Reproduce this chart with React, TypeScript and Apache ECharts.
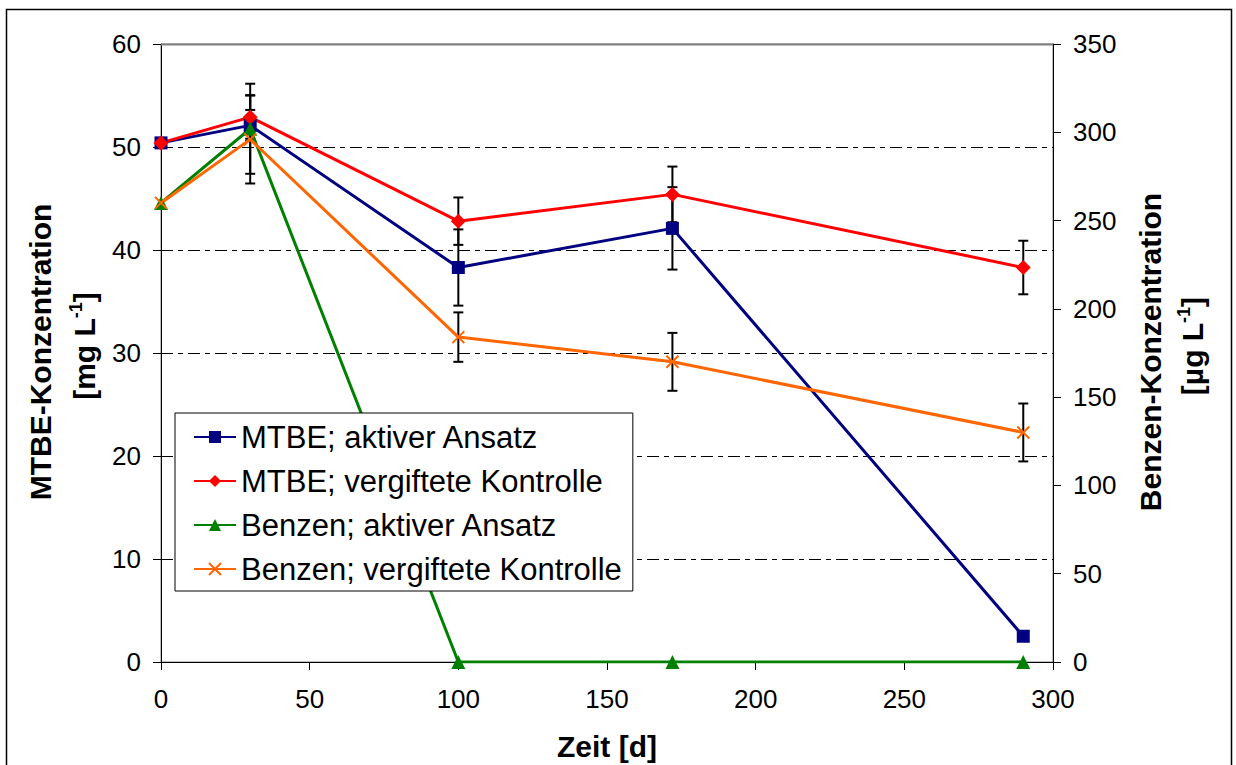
import React, { useEffect, useRef } from "react";
import * as echarts from "echarts";

// Sampling days
const days = [0, 30, 100, 172, 290];

// MTBE concentrations [mg/L] (left axis)
const mtbeAktiv = [50.4, 52.1, 38.3, 42.1, 2.5];
const mtbeAktivErr = [0, 1.5, 3.7, 4.0, 0];
const mtbeVergiftet = [50.4, 52.9, 42.8, 45.4, 38.3];
const mtbeVergiftetErr = [0, 2.1, 2.3, 2.7, 2.6];

// Benzene concentrations [µg/L] (right axis)
const benzenAktiv = [260, 302, 0, 0, 0];
const benzenAktivErr = [0, 25.5, 0, 0, 0];
const benzenVergiftet = [260, 296, 184, 170, 130];
const benzenVergiftetErr = [0, 25, 14, 16.4, 16.4];

const seriesNames = [
  "MTBE; aktiver Ansatz",
  "MTBE; vergiftete Kontrolle",
  "Benzen; aktiver Ansatz",
  "Benzen; vergiftete Kontrolle",
];

const FONT = "'Liberation Sans', Arial, sans-serif";
const TITLE_SIZE = 30;

function pairs(values: number[]) {
  return days.map((d, i) => [d, values[i]]);
}

function errorData(values: number[], errs: number[]) {
  const out: number[][] = [];
  days.forEach((d, i) => {
    if (errs[i] > 0) out.push([d, values[i] - errs[i], values[i] + errs[i]]);
  });
  return out;
}

function errorBarSeries(data: number[][], yAxisIndex: number) {
  return {
    type: "custom",
    yAxisIndex,
    z: 1,
    silent: true,
    encode: { x: 0, y: [1, 2] },
    data,
    renderItem: (params: any, api: any) => {
      const x = api.value(0);
      const top = api.coord([x, api.value(2)]);
      const bot = api.coord([x, api.value(1)]);
      const cap = 5;
      const style = { stroke: "#000", lineWidth: 2 };
      return {
        type: "group",
        children: [
          { type: "line", shape: { x1: top[0], y1: top[1], x2: bot[0], y2: bot[1] }, style },
          { type: "line", shape: { x1: top[0] - cap, y1: top[1], x2: top[0] + cap, y2: top[1] }, style },
          { type: "line", shape: { x1: bot[0] - cap, y1: bot[1], x2: bot[0] + cap, y2: bot[1] }, style },
        ],
      };
    },
  };
}

function lineSeries(name: string, values: number[], color: string, symbol: string, size: number, yAxisIndex: number, hollow = false) {
  return {
    type: "line",
    name,
    yAxisIndex,
    z: 3,
    data: pairs(values),
    symbol,
    symbolSize: size,
    showSymbol: true,
    lineStyle: { color, width: 3 },
    itemStyle: hollow
      ? { color: "rgba(0,0,0,0)", borderColor: color, borderWidth: 2 }
      : { color, borderWidth: 0 },
  };
}

function unitTitle(x: number, y: number, unit: string) {
  return {
    type: "text",
    x,
    y,
    rotation: Math.PI / 2,
    style: {
      text: `{b|[${unit} L}{s|-1}{b|]}`,
      fill: "#000",
      align: "center",
      verticalAlign: "middle",
      rich: {
        b: { fontFamily: FONT, fontWeight: "bold", fontSize: TITLE_SIZE, lineHeight: 34, fill: "#000" },
        s: { fontFamily: FONT, fontWeight: "bold", fontSize: 18, lineHeight: 18, verticalAlign: "top", fill: "#000" },
      },
    },
  };
}

function plainTitle(x: number, y: number, text: string, rotation: number) {
  return {
    type: "text",
    x,
    y,
    rotation,
    style: {
      text,
      font: `bold ${TITLE_SIZE}px ${FONT}`,
      fill: "#000",
      align: "center",
      verticalAlign: "middle",
    },
  };
}

export default function App() {
  const ref = useRef<HTMLDivElement>(null);

  useEffect(() => {
    if (!ref.current) return;
    const chart = echarts.init(ref.current, null, { renderer: "svg" });

    const gridDash = [12, 5, 5, 5];

    chart.setOption({
      animation: false,
      backgroundColor: "#fff",
      textStyle: { fontFamily: FONT },
      grid: {
        left: 161,
        right: 183,
        top: 44,
        bottom: 103,
        show: true,
        borderColor: "#808080",
        borderWidth: 1,
        backgroundColor: "transparent",
      },
      xAxis: {
        type: "value",
        min: 0,
        max: 300,
        interval: 50,
        axisLine: { show: true, onZero: false, lineStyle: { color: "#000", width: 1 } },
        axisTick: { show: true, length: 8, lineStyle: { color: "#000" } },
        axisLabel: { color: "#000", fontSize: 26, fontFamily: FONT, margin: 24 },
        splitLine: { show: false },
      },
      yAxis: [
        {
          type: "value",
          min: 0,
          max: 60,
          interval: 10,
          position: "left",
          axisLine: { show: true, onZero: false, lineStyle: { color: "#000", width: 1 } },
          axisTick: { show: true, length: 8, lineStyle: { color: "#000" } },
          axisLabel: { color: "#000", fontSize: 26, fontFamily: FONT, margin: 20 },
          splitLine: { show: true, lineStyle: { color: "#000", width: 1, type: gridDash } },
        },
        {
          type: "value",
          min: 0,
          max: 350,
          interval: 50,
          position: "right",
          axisLine: { show: true, onZero: false, lineStyle: { color: "#000", width: 1 } },
          axisTick: { show: true, length: 8, lineStyle: { color: "#000" } },
          axisLabel: { color: "#000", fontSize: 26, fontFamily: FONT, margin: 20 },
          splitLine: { show: false },
        },
      ],
      legend: {
        orient: "vertical",
        left: 175,
        top: 413,
        data: seriesNames,
        backgroundColor: "#fff",
        borderColor: "#000",
        borderWidth: 1,
        borderRadius: 0,
        padding: [7, 11, 5, 18],
        itemWidth: 42,
        itemHeight: 15,
        itemGap: 10,
        textStyle: { color: "#000", fontSize: 31, fontFamily: FONT, lineHeight: 34 },
      },
      series: [
        errorBarSeries(errorData(mtbeAktiv, mtbeAktivErr), 0),
        errorBarSeries(errorData(mtbeVergiftet, mtbeVergiftetErr), 0),
        errorBarSeries(errorData(benzenAktiv, benzenAktivErr), 1),
        errorBarSeries(errorData(benzenVergiftet, benzenVergiftetErr), 1),
        lineSeries(seriesNames[0], mtbeAktiv, "#000080", "rect", 13, 0),
        lineSeries(seriesNames[1], mtbeVergiftet, "#FF0000", "diamond", 15, 0),
        lineSeries(seriesNames[2], benzenAktiv, "#008000", "triangle", 14, 1),
        lineSeries(seriesNames[3], benzenVergiftet, "#FF6600", "path://M0,0L10,10M10,0L0,10", 12, 1, true),
      ],
      graphic: [
        {
          type: "rect",
          shape: { x: 6.5, y: 9.5, width: 1225, height: 800 },
          style: { fill: "none", stroke: "#000", lineWidth: 1.5 },
          silent: true,
          z: -1,
        },
        {
          // solid plot-area top edge over the topmost grid line
          type: "line",
          shape: { x1: 161, y1: 44.5, x2: 1053, y2: 44.5 },
          style: { stroke: "#808080", lineWidth: 2 },
          silent: true,
          z: 10,
        },
        plainTitle(607, 746, "Zeit [d]", 0),
        plainTitle(40, 352, "MTBE-Konzentration", Math.PI / 2),
        unitTitle(84, 346, "mg"),
        plainTitle(1150, 352, "Benzen-Konzentration", Math.PI / 2),
        unitTitle(1192, 346, "µg"),
      ],
    });

    return () => chart.dispose();
  }, []);

  return (
    <div
      ref={ref}
      style={{ position: "absolute", left: 0, top: 0, width: 1236, height: 765 }}
    />
  );
}
